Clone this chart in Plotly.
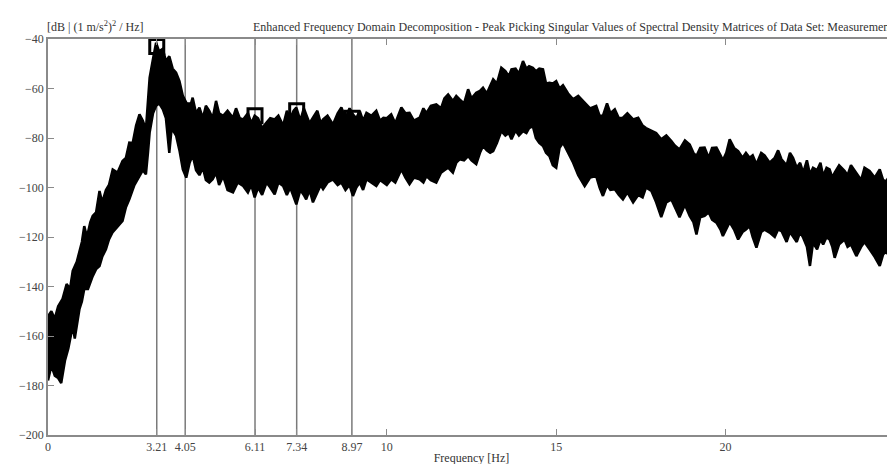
import plotly.graph_objects as go

# Upper envelope of the singular-value band (Hz, dB)
freq_hi = [0.0, 0.1, 0.2, 0.3, 0.43, 0.55, 0.65, 0.73, 0.85, 0.93, 1.0, 1.07, 1.15, 1.25, 1.32, 1.42, 1.52, 1.6, 1.71, 1.8,
           1.91, 2.05, 2.2, 2.3, 2.4, 2.5, 2.6, 2.7, 2.8, 2.89, 2.95, 3.0, 3.1, 3.19, 3.28, 3.39, 3.48, 3.58, 3.68, 3.78,
           3.88, 3.98, 4.08, 4.18, 4.27, 4.37, 4.47, 4.57, 4.66, 4.76, 4.86, 4.96, 5.05, 5.17, 5.3, 5.46, 5.55, 5.66, 5.76, 5.9,
           6.0, 6.1, 6.2, 6.32, 6.45, 6.56, 6.69, 6.8, 6.94, 7.05, 7.15, 7.25, 7.33, 7.45, 7.55, 7.62, 7.72, 7.82, 7.95, 8.05,
           8.12, 8.25, 8.41, 8.55, 8.66, 8.78, 8.9, 9.0, 9.1, 9.2, 9.3, 9.4, 9.55, 9.69, 9.8, 9.9, 10.0, 10.13, 10.25, 10.43,
           10.55, 10.67, 10.8, 10.97, 11.08, 11.17, 11.3, 11.46, 11.6, 11.7, 11.81, 11.95, 12.05, 12.15, 12.28, 12.4, 12.5, 12.64, 12.75, 12.84,
           12.95, 13.05, 13.14, 13.25, 13.38, 13.5, 13.6, 13.68, 13.8, 13.9, 14.02, 14.12, 14.2, 14.31, 14.4, 14.5, 14.61, 14.7, 14.8, 14.9,
           15.0, 15.1, 15.2, 15.35, 15.5, 15.65, 15.84, 16.0, 16.18, 16.28, 16.38, 16.5, 16.6, 16.73, 16.85, 16.97, 17.1, 17.27, 17.42, 17.55,
           17.65, 17.81, 17.95, 18.1, 18.25, 18.4, 18.5, 18.64, 18.8, 18.94, 19.05, 19.14, 19.25, 19.38, 19.5, 19.6, 19.73, 19.85, 19.92, 20.02,
           20.12, 20.25, 20.37, 20.5, 20.6, 20.71, 20.8, 20.91, 21.05, 21.15, 21.3, 21.45, 21.55, 21.65, 21.8, 21.9, 21.99, 22.1, 22.2, 22.29,
           22.4, 22.49, 22.58, 22.7, 22.8, 22.88, 22.98, 23.07, 23.15, 23.22, 23.35, 23.51, 23.6, 23.7, 23.86, 24.0, 24.1, 24.25, 24.4, 24.55,
           24.65, 24.74, 24.85, 25.0]
sv_hi = [-152, -150, -153, -148, -145, -139, -141, -133.7, -130, -125, -122, -115.6, -120, -114, -111.5, -110, -101.4, -106, -101, -99,
         -92.7, -94, -89.3, -88, -81.9, -82, -75, -70.4, -73, -76.5, -65, -55.6, -48, -41.5, -45, -44, -49, -47, -52, -53.6,
         -57, -63, -65.7, -68, -63.7, -70, -67.7, -72, -67, -69, -72, -65, -70, -71, -69, -71.8, -68, -72, -72.5, -70,
         -74, -71, -72, -76, -73.8, -72, -72.5, -71, -75, -69, -72, -69, -67.7, -73, -68, -70.4, -74, -71.8, -69, -74,
         -72.5, -71, -74.5, -70, -67.7, -72, -68, -70.4, -72, -69, -73, -69.8, -71, -69, -73, -71.8, -72, -70.4, -74, -67.7,
         -70, -69.8, -73, -71.8, -68, -70, -67, -66.4, -68, -64, -62.4, -65, -63, -64.4, -66, -60.3, -64, -61.7, -61, -59.7,
         -62, -59, -56.3, -58, -51.6, -53, -55, -52.3, -52, -54, -48.9, -52, -51, -51.6, -53, -52, -52.3, -58, -57.7, -58,
         -57, -60, -58.7, -62, -64.4, -63, -65.7, -68, -67, -71, -71, -66, -70, -68.4, -72, -71.8, -70, -72.5, -71.8, -75,
         -76, -77.2, -78, -80.5, -79, -81.2, -83, -84.6, -81, -82.6, -86, -87.3, -84, -83.9, -88, -84, -83.9, -87, -89, -86,
         -80.5, -84, -85.3, -88, -86, -88, -87, -90.6, -86, -87, -90, -88, -85, -88.6, -91, -86, -88, -92, -90, -94,
         -89, -94.7, -92, -93, -90, -95.4, -92, -92.7, -96, -94, -91, -93.3, -95, -91, -94, -97, -92, -93.3, -96, -92.7,
         -97, -97.4, -95, -98]

# Lower envelope of the singular-value band (Hz, dB)
freq_lo = [0.0, 0.1, 0.2, 0.3, 0.39, 0.5, 0.6, 0.73, 0.79, 0.93, 1.0, 1.07, 1.18, 1.32, 1.42, 1.52, 1.6, 1.71, 1.8, 1.91,
           2.05, 2.2, 2.3, 2.4, 2.55, 2.7, 2.8, 2.89, 2.95, 3.0, 3.1, 3.19, 3.28, 3.39, 3.48, 3.58, 3.65, 3.78, 3.88, 3.98,
           4.08, 4.18, 4.27, 4.37, 4.47, 4.57, 4.66, 4.76, 4.86, 4.96, 5.05, 5.17, 5.3, 5.46, 5.6, 5.76, 5.9, 6.0, 6.1, 6.2,
           6.32, 6.45, 6.56, 6.69, 6.8, 6.94, 7.05, 7.15, 7.25, 7.33, 7.45, 7.55, 7.62, 7.72, 7.82, 7.95, 8.05, 8.12, 8.25, 8.41,
           8.55, 8.66, 8.78, 8.9, 9.0, 9.1, 9.2, 9.3, 9.4, 9.55, 9.69, 9.8, 9.9, 10.0, 10.13, 10.25, 10.43, 10.55, 10.67, 10.8,
           10.97, 11.08, 11.17, 11.3, 11.46, 11.6, 11.7, 11.81, 11.95, 12.05, 12.15, 12.28, 12.4, 12.5, 12.64, 12.75, 12.84, 12.95, 13.05, 13.14,
           13.25, 13.38, 13.5, 13.6, 13.68, 13.8, 13.9, 14.02, 14.12, 14.2, 14.31, 14.4, 14.5, 14.61, 14.7, 14.8, 14.9, 15.0, 15.1, 15.2,
           15.35, 15.5, 15.65, 15.84, 16.0, 16.18, 16.28, 16.38, 16.5, 16.6, 16.73, 16.85, 16.97, 17.1, 17.27, 17.42, 17.55, 17.65, 17.81, 17.95,
           18.1, 18.25, 18.4, 18.5, 18.64, 18.8, 18.94, 19.05, 19.14, 19.25, 19.38, 19.5, 19.6, 19.73, 19.85, 19.92, 20.02, 20.12, 20.25, 20.37,
           20.5, 20.6, 20.71, 20.8, 20.91, 21.05, 21.15, 21.3, 21.45, 21.55, 21.65, 21.8, 21.9, 21.99, 22.1, 22.2, 22.29, 22.4, 22.49, 22.58,
           22.7, 22.8, 22.88, 22.98, 23.07, 23.15, 23.22, 23.35, 23.51, 23.6, 23.7, 23.86, 24.0, 24.1, 24.25, 24.4, 24.55, 24.65, 24.74, 24.85,
           25.0]
sv_lo = [-178, -172, -176, -177, -179, -170, -165, -156, -161, -149, -146, -141, -141, -135.8, -133, -131.7, -128, -125, -121, -118,
         -116, -113.5, -108, -104.8, -99, -95.4, -93, -94.7, -86, -77.8, -70, -67, -66, -68.4, -72, -86, -76, -79, -85, -92.7,
         -96, -90, -87, -93, -95, -92, -97, -98, -96.7, -94, -99, -95.4, -101, -102, -98, -99.4, -102, -99, -104, -100,
         -103, -98, -100, -102.8, -98, -99.4, -103, -100, -104, -106.8, -101, -103, -104.8, -101, -106, -102, -99, -100.7, -98, -96.7,
         -99, -98, -101, -99, -103.4, -100, -98, -101, -96.7, -98, -99.4, -97, -98, -99, -96.7, -98, -92.7, -96, -98.7, -96,
         -96.7, -98, -95.4, -97, -98, -94, -93, -92, -94, -90, -88.6, -89, -87.3, -89, -90.6, -86, -83.2, -85, -86, -85.3,
         -82, -77.2, -79, -78, -80.5, -77, -79, -77.2, -78, -76, -75.2, -80, -82, -83.2, -86, -87.3, -91, -92, -84, -81.9,
         -86, -90, -95, -99.4, -96, -95.4, -100, -103.4, -99, -101, -100.7, -103, -104.8, -102, -106, -103, -104, -100, -101.4, -106,
         -112, -106, -104.8, -108, -112, -107, -111.5, -114, -119, -112, -111.5, -110, -113, -114.2, -117, -119.6, -117, -114, -117, -121,
         -118, -117, -115.6, -120, -124.3, -118, -117, -118.2, -120, -117, -117.6, -122, -118, -119.6, -122, -118, -120.3, -124, -131.7, -122.3,
         -125, -121, -123, -120, -121, -124, -128.4, -123, -121, -124, -123, -127.7, -124, -122, -125, -128, -131.7, -127, -126, -128,
         -124.3]

# Picked peaks
peak_freqs = [3.21, 4.05, 6.11, 7.34, 8.97]
peak_db = [-43, -69, -71, -69, -72]

x_tickvals = [0, 3.21, 4.05, 6.11, 7.34, 8.97, 10, 15, 20, 25]
x_ticktext = ["0", "3.21", "4.05", "6.11", "7.34", "8.97", "10", "15", "20", "25"]
y_tickvals = [-200, -180, -160, -140, -120, -100, -80, -60, -40]

FONT = "Liberation Serif, Times New Roman, serif"
GRAY = "#8a8a8a"

fig = go.Figure()

# vertical peak lines
for f in peak_freqs:
    fig.add_trace(go.Scatter(x=[f, f], y=[-200, -40], mode="lines",
                             line=dict(color="#7a7a7a", width=1.5),
                             hoverinfo="skip", showlegend=False))

# band of singular values
fig.add_trace(go.Scatter(
    x=freq_hi + freq_lo[::-1],
    y=sv_hi + sv_lo[::-1],
    mode="lines", fill="toself", fillcolor="black",
    line=dict(color="black", width=2.5),
    showlegend=False, hoverinfo="skip"))

# picked peaks
fig.add_trace(go.Scatter(
    x=peak_freqs, y=peak_db, mode="markers",
    marker=dict(symbol="square-open", size=14, color="black", line=dict(width=3, color="black")),
    showlegend=False))

fig.update_layout(
    width=895, height=464,
    margin=dict(l=40, r=8, t=31, b=37),
    paper_bgcolor="white", plot_bgcolor="white",
    font=dict(family=FONT, size=12, color="#333333"),
    showlegend=False,
    xaxis=dict(range=[0, 25], tickvals=x_tickvals, ticktext=x_ticktext, automargin=False,
               showline=True, linecolor=GRAY, linewidth=1.5, mirror="ticks",
               ticks="inside", ticklen=6, tickcolor=GRAY, showgrid=False, zeroline=False,
               title=dict(text="Frequency [Hz]", font=dict(size=12, family=FONT, color="#333333"), standoff=0),
               tickfont=dict(size=12, family=FONT, color="#444444")),
    yaxis=dict(range=[-200, -40], tickvals=y_tickvals, automargin=False,
               showline=True, linecolor=GRAY, linewidth=1.5, mirror="ticks",
               ticks="inside", ticklen=6, tickcolor=GRAY, showgrid=False, zeroline=False,
               tickfont=dict(size=12, family=FONT, color="#444444")),
    annotations=[
        dict(text="Enhanced Frequency Domain Decomposition - Peak Picking Singular Values of Spectral Density Matrices of Data Set: Measurement",
             xref="paper", yref="paper", x=1.0, y=1.0, xanchor="right", yanchor="bottom", yshift=3,
             showarrow=False, font=dict(size=12, family=FONT, color="#333333")),
        dict(text="[dB | (1 m/s<sup>2</sup>)<sup>2</sup> / Hz]",
             xref="paper", yref="paper", x=0, y=1.0, xanchor="left", yanchor="bottom", xshift=-3, yshift=3,
             showarrow=False, font=dict(size=12, family=FONT, color="#333333")),
    ],
)

fig.write_html("out.html")
